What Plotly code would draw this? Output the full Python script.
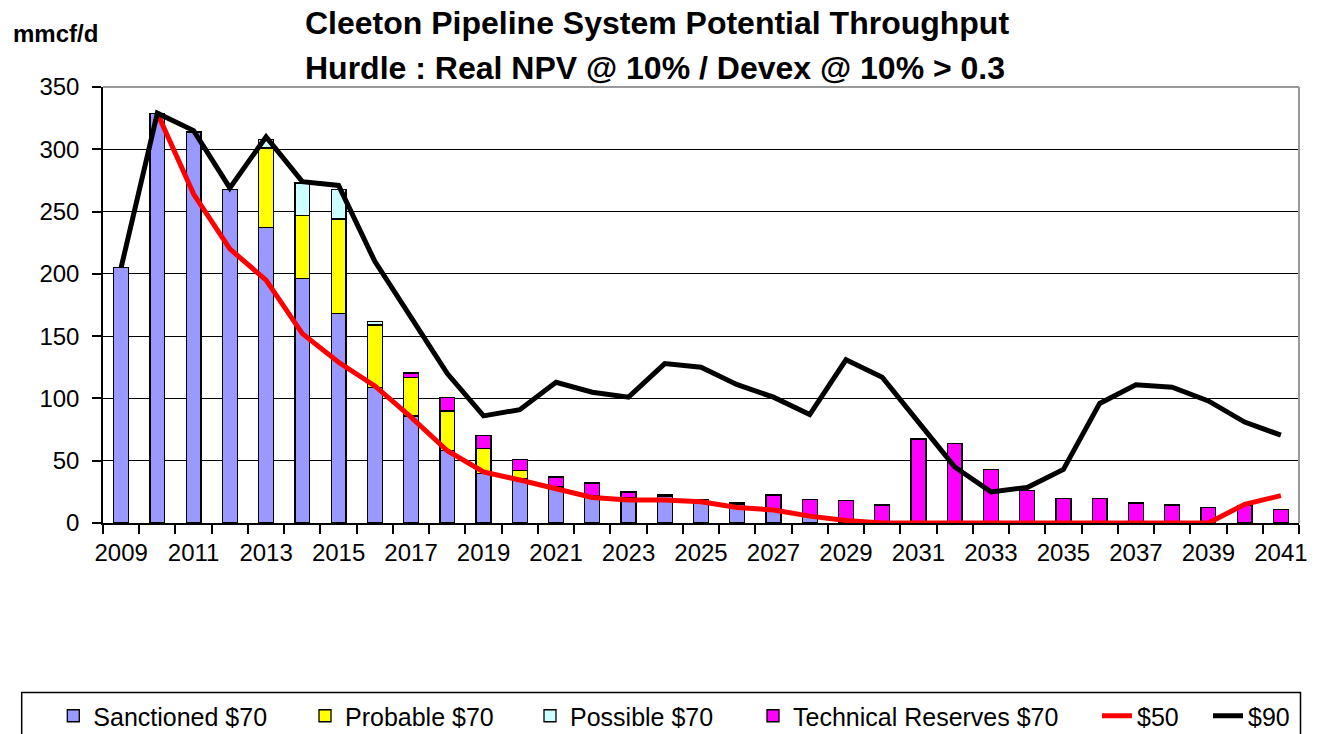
import plotly.graph_objects as go

years = list(range(2009, 2042))

sanctioned = [205, 329, 314, 268, 237, 196, 168, 109, 86, 58, 40, 36, 29, 22, 20, 21, 19, 15, 9, 5, 3,
              0, 0, 0, 0, 0, 0, 0, 0, 0, 0, 0, 0]
probable = [0, 0, 0, 0, 64, 51, 76, 50, 31, 32, 20, 6, 0, 0, 0, 0, 0, 0, 0, 0, 0,
            0, 0, 0, 0, 0, 0, 0, 0, 0, 0, 0, 0]
possible = [0, 0, 0, 0, 7, 26, 24, 3, 0, 0, 0, 0, 0, 0, 0, 0, 0, 0, 0, 0, 0,
            0, 0, 0, 0, 0, 0, 0, 0, 0, 0, 0, 0]
technical = [0, 0, 0, 0, 0, 0, 0, 0, 3.5, 11, 10, 9, 8, 10, 5, 1.5, 0, 1, 13.5, 14, 15,
             14.5, 67.5, 64, 43, 26, 19.5, 19.5, 16, 14.5, 12.5, 14, 11]
line50 = [None, 329, 264, 220, 195, 152, 129, 110, 85, 58, 41, 34.5, 28, 20.5, 18.5, 18.5, 17,
          12.5, 10.5, 5.5, 2, 0, 0, 0, 0, 0, 0, 0, 0, 0, 0, 15, 22]
line90 = [205, 329, 315, 269, 310, 274, 271, 210, 165, 120, 86, 91, 113, 105, 101, 128, 125,
          111, 101, 87, 131, 117, 81, 45, 25, 28.5, 43, 96, 111, 109, 98, 81, 70.5]

x_labels = [str(y) for y in range(2009, 2042, 2)]

FONT = "Liberation Sans, Arial, sans-serif"

FIG_W, FIG_H = 1317, 734

# plot-area geometry (reference pixels)
L, R, T, B = 103, 1299, 87, 523
W, H = R - L, B - T


def px(xp):
    return (xp - L) / W


def py(yp):
    return (B - yp) / H


fig = go.Figure()

bar_specs = [
    ("Sanctioned $70", sanctioned, "#9999FF", "legend"),
    ("Probable $70", probable, "#FFFF00", "legend2"),
    ("Possible $70", possible, "#CCFFFF", "legend3"),
    ("Technical Reserves $70", technical, "#FF00FF", "legend4"),
]
for name, vals, col, lg in bar_specs:
    fig.add_trace(go.Bar(
        x=years, y=vals, name=name, width=0.41,
        marker=dict(color=col, line=dict(color="black", width=1.3)),
        legend=lg,
    ))

fig.add_trace(go.Scatter(x=years, y=line50, name="$50", mode="lines",
                         line=dict(color="#FF0000", width=5), legend="legend5"))
fig.add_trace(go.Scatter(x=years, y=line90, name="$90", mode="lines",
                         line=dict(color="#000000", width=5), legend="legend6"))

legend_text_starts = [93.3, 345, 570, 793, 1137, 1248]
legend_y = py(716)
legend_common = dict(orientation="h", yanchor="middle", y=legend_y, xanchor="left",
                     bgcolor="rgba(0,0,0,0)", borderwidth=0,
                     font=dict(family=FONT, size=25, color="black"))
legend_layout = {}
for i, ts in enumerate(legend_text_starts):
    key = "legend" if i == 0 else f"legend{i + 1}"
    legend_layout[key] = dict(x=px(ts - 40), **legend_common)

fig.update_layout(
    width=FIG_W, height=FIG_H,
    margin=dict(l=L, r=FIG_W - R, t=T, b=FIG_H - B, pad=0, autoexpand=False),
    paper_bgcolor="white", plot_bgcolor="white",
    barmode="stack",
    font=dict(family=FONT, size=24, color="black"),
    showlegend=True,
    **legend_layout,
)

fig.update_xaxes(
    range=[2008.5, 2041.5],
    tickmode="array", tickvals=list(range(2009, 2042, 2)), ticktext=x_labels,
    ticks="", showgrid=False, zeroline=False,
    showline=True, linecolor="black", linewidth=1.5,
    ticklabelstandoff=7,
    tickfont=dict(family=FONT, size=24, color="black"),
    minor=dict(tickmode="array", tickvals=[y + 0.5 for y in range(2008, 2042)],
               ticks="outside", ticklen=9, tickwidth=1.5, tickcolor="black", showgrid=False),
)
fig.update_yaxes(
    range=[0, 350], dtick=50, tick0=0,
    ticks="outside", ticklen=9, tickwidth=1.5, tickcolor="black",
    showgrid=True, gridcolor="black", gridwidth=1.4,
    zeroline=False, showline=True, linecolor="black", linewidth=1.5,
    ticklabelstandoff=8,
    tickfont=dict(family=FONT, size=24, color="black"),
)

# plot-area border (top / right) in grey
fig.add_shape(type="line", xref="paper", yref="paper", x0=0, x1=1, y0=1, y1=1,
              line=dict(color="#999999", width=2), layer="above")
fig.add_shape(type="line", xref="paper", yref="paper", x0=1, x1=1, y0=0, y1=1,
              line=dict(color="#999999", width=2), layer="above")

# legend box
fig.add_shape(type="rect", xref="paper", yref="paper",
              x0=px(21.7), x1=px(1300.5), y0=py(692.5), y1=py(745),
              line=dict(color="black", width=1.5), fillcolor="rgba(0,0,0,0)", layer="above")

# titles
fig.add_annotation(xref="paper", yref="paper", x=px(657), y=py(23), xanchor="center", yanchor="middle",
                   text="<b>Cleeton Pipeline System Potential Throughput</b>", showarrow=False,
                   font=dict(family=FONT, size=32, color="black"))
fig.add_annotation(xref="paper", yref="paper", x=px(655), y=py(68), xanchor="center", yanchor="middle",
                   text="<b>Hurdle : Real NPV @ 10% / Devex @ 10% > 0.3</b>", showarrow=False,
                   font=dict(family=FONT, size=32, color="black"))
fig.add_annotation(xref="paper", yref="paper", x=px(55), y=py(34), xanchor="center", yanchor="middle",
                   text="<b>mmcf/d</b>", showarrow=False,
                   font=dict(family=FONT, size=24, color="black"))

fig.write_html("out.html", config={"displayModeBar": False},
               post_script="document.body.style.margin='0px';")
